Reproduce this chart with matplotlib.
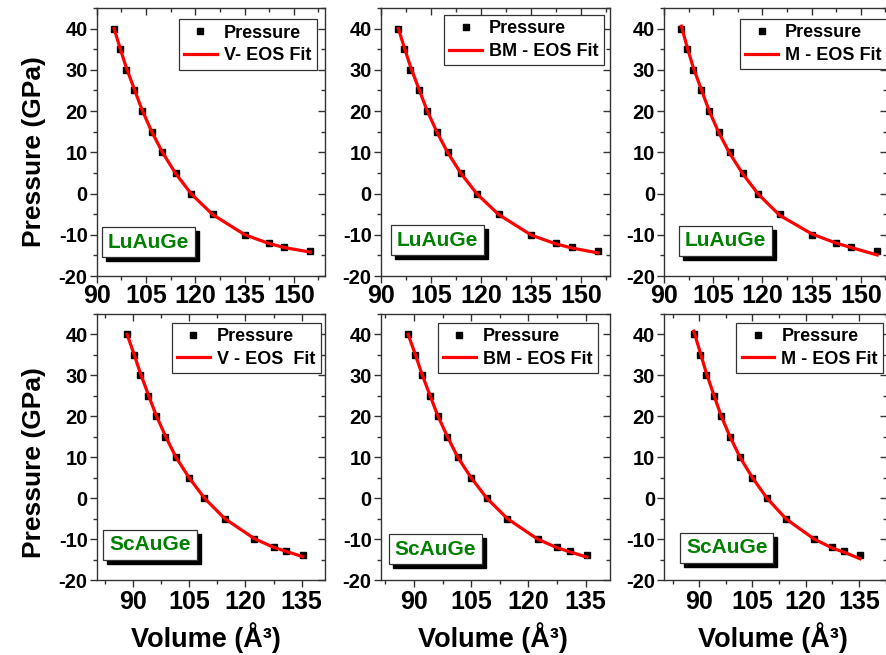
import matplotlib
matplotlib.use("Agg")
import matplotlib.pyplot as plt
from matplotlib.patches import Rectangle
from matplotlib.ticker import MultipleLocator

plt.rcParams['font.family'] = ['Liberation Sans', 'DejaVu Sans']
plt.rcParams['font.weight'] = 'bold'
plt.rcParams['axes.unicode_minus'] = False

# pressure steps (GPa) shared by all panels
pressure = [40, 35, 30, 25, 20, 15, 10, 5, 0, -5, -10, -12, -13, -14]

# volumes (A^3)
lu_volume = [95.3, 97.1, 98.9, 101.4, 103.8, 106.7, 110.0, 114.0, 118.8, 125.3, 135.1, 142.4, 147.1, 155.0]
sc_volume = [88.5, 90.3, 92.0, 94.1, 96.2, 98.7, 101.5, 105.0, 109.1, 114.5, 122.4, 127.5, 130.8, 135.3]

# fitted curves evaluated at the same volumes
lu_fit_v = [40.0, 35.3, 30.8, 25.4, 20.3, 15.1, 10.0, 4.9, -0.1, -5.1, -10.0, -12.1, -13.1, -14.2]
lu_fit_bm = [40.0, 35.3, 30.8, 25.4, 20.3, 15.1, 10.0, 4.9, -0.1, -5.1, -10.1, -12.2, -13.2, -14.4]
lu_fit_m = [40.6, 35.4, 30.6, 25.2, 20.0, 14.8, 9.8, 4.8, -0.2, -5.3, -9.8, -12.0, -13.1, -14.9]
sc_fit_v = [40.0, 35.3, 30.6, 25.4, 20.3, 15.2, 10.0, 5.0, 0.0, -5.0, -9.9, -12.0, -13.0, -14.3]
sc_fit_bm = [40.0, 35.3, 30.6, 25.4, 20.3, 15.2, 10.0, 5.0, 0.0, -5.0, -10.0, -12.1, -13.1, -14.4]
sc_fit_m = [40.8, 35.6, 30.6, 25.3, 20.1, 15.0, 10.0, 5.0, 0.0, -5.1, -10.0, -12.2, -13.2, -14.8]

fit_labels_top = ["V- EOS Fit", "BM - EOS Fit", "M - EOS Fit"]
fit_labels_bot = ["V - EOS  Fit", "BM - EOS Fit", "M - EOS Fit"]

W, H = 887, 655
fig = plt.figure(figsize=(W / 100, H / 100), dpi=100)


def frac(x0, x1, y0, y1):
    return [x0 / W, 1 - y1 / H, (x1 - x0) / W, (y1 - y0) / H]


# (x0, x1) of each column in pixels, y of each row
cols = [(96.7, 325), (380.7, 610), (664, 887)]
rows = [(8, 276), (314, 580)]
xlims_top = [(90, 159.5), (90, 158.6), (90, 158)]
xlims_bot = [(80.4, 141.2), (81.3, 141.4), (80.1, 142.9)]
legend_anchor = [[(316.7, 19.3), (604, 15), (887, 19)],
                 [(320.7, 322.7), (597.7, 322.7), (883.3, 322.7)]]
tag_center = [[(148.8, 242.3), (437.8, 240.3), (725.8, 240.7)],
              [(150, 544.7), (435.3, 549.2), (727, 547.5)]]

panels = [
    ("LuAuGe", lu_volume, [lu_fit_v, lu_fit_bm, lu_fit_m], fit_labels_top, xlims_top, [90, 105, 120, 135, 150]),
    ("ScAuGe", sc_volume, [sc_fit_v, sc_fit_bm, sc_fit_m], fit_labels_bot, xlims_bot, [90, 105, 120, 135]),
]

for r, (name, vol, fits, labels, xlims, xt) in enumerate(panels):
    for c in range(3):
        ax = fig.add_axes(frac(cols[c][0], cols[c][1], rows[r][0], rows[r][1]))
        ax.plot(vol, pressure, 's', color='black', ms=5, label='Pressure', zorder=3)
        ax.plot(vol, fits[c], '-', color='red', lw=2.3, label=labels[c], zorder=4)
        ax.set_xlim(*xlims[c])
        ax.set_ylim(-20, 45)
        ax.set_xticks(xt)
        ax.set_yticks([-20, -10, 0, 10, 20, 30, 40])
        ax.xaxis.set_minor_locator(MultipleLocator(7.5))
        ax.yaxis.set_minor_locator(MultipleLocator(5))
        for s in ax.spines.values():
            s.set_linewidth(1.0)
            s.set_color('#333333')
        ax.tick_params(which='both', top=True, right=True, width=1.0, color='#333333')
        ax.tick_params(axis='y', which='both', direction='out', labelsize=14.5, pad=1.5)
        ax.tick_params(axis='x', which='both', direction='out', labelsize=18, pad=0.5 if r == 0 else 2.5)
        ax.tick_params(which='major', length=5)
        ax.tick_params(which='minor', length=3)
        # mirrored ticks point inward on top/right
        for t in ax.xaxis.get_major_ticks() + ax.xaxis.get_minor_ticks():
            t.tick2line.set_marker(3)
        for t in ax.yaxis.get_major_ticks() + ax.yaxis.get_minor_ticks():
            t.tick2line.set_marker(0)
        for lab in ax.get_xticklabels() + ax.get_yticklabels():
            lab.set_fontweight('bold')

        ax_x = legend_anchor[r][c]
        leg = ax.legend(loc='upper right', bbox_to_anchor=(ax_x[0] / W, 1 - ax_x[1] / H),
                        bbox_transform=fig.transFigure, fancybox=False, framealpha=1,
                        edgecolor='#333333', prop={'size': 13, 'weight': 'bold'},
                        handlelength=1.8, handletextpad=0.4, labelspacing=0.3,
                        borderpad=0.3, borderaxespad=0, markerscale=1.0)
        leg.get_frame().set_linewidth(0.9)

        # sample tag with drop shadow
        cx, cy = tag_center[r][c]
        bw, bh = 93, 30
        fig.add_artist(Rectangle(((cx - bw / 2 + 4) / W, 1 - (cy + bh / 2 + 4) / H), bw / W, bh / H,
                                 transform=fig.transFigure, fc='black', ec='black', zorder=5))
        fig.add_artist(Rectangle(((cx - bw / 2) / W, 1 - (cy + bh / 2) / H), bw / W, bh / H,
                                 transform=fig.transFigure, fc='white', ec='#333333', lw=0.9, zorder=6))
        fig.text(cx / W, 1 - cy / H, name, color='#008000', fontsize=15, fontweight='bold',
                 ha='center', va='center', zorder=7)

        if c == 0:
            ax.set_ylabel('Pressure (GPa)', fontsize=19, fontweight='bold')
            ax.yaxis.set_label_coords(-0.22, 0.466 if r == 0 else 0.44)
        if r == 1:
            ax.set_xlabel('Volume (Å³)', fontsize=19.5, fontweight='bold')
            ax.xaxis.set_label_coords(0.48 if c == 0 else 0.49, -0.16)

fig.savefig('out.png', dpi=100)
